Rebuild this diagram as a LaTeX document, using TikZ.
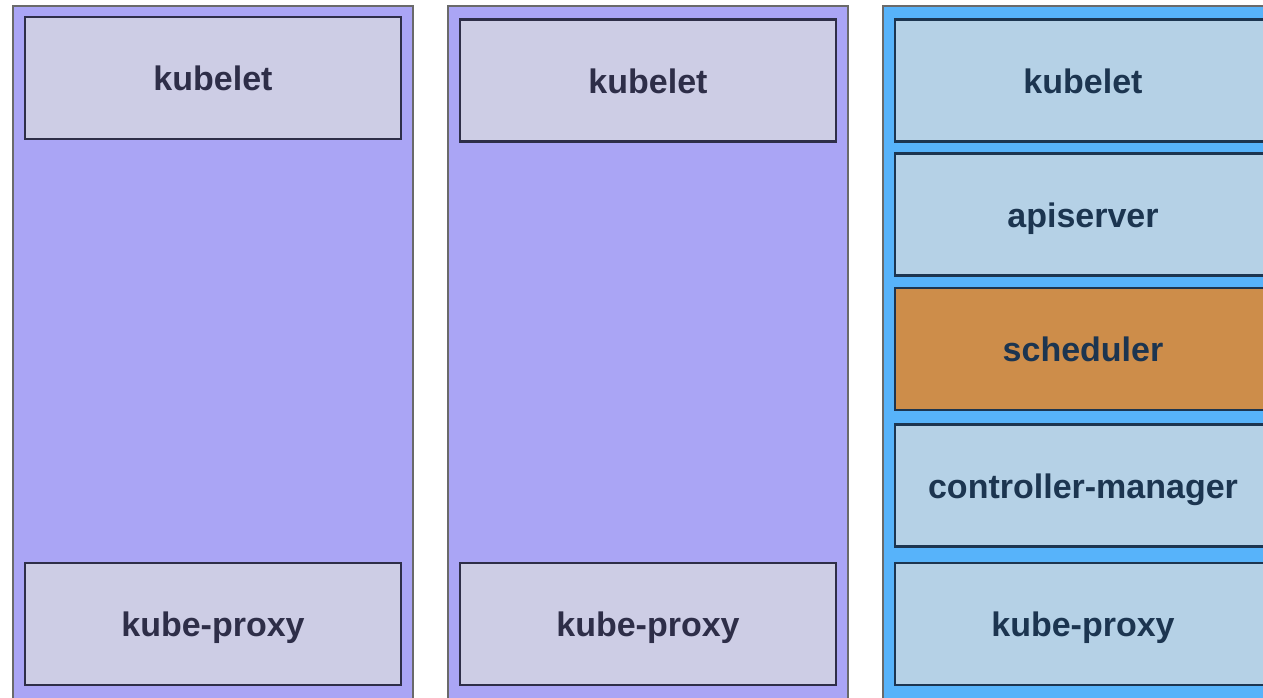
\documentclass[tikz,border=0pt]{standalone}
\usepackage{fontspec}
\setmainfont{Liberation Sans}
\definecolor{purp}{HTML}{AAA5F5}
\definecolor{lav}{HTML}{CDCDE5}
\definecolor{lavtxt}{HTML}{2E2E48}
\definecolor{sky}{HTML}{57B3FA}
\definecolor{pale}{HTML}{B5D1E6}
\definecolor{navy}{HTML}{1C3550}
\definecolor{orng}{HTML}{CD8D4A}
\definecolor{outline}{HTML}{6A6A6A}
\tikzset{
  nodebox/.style={draw=outline, line width=2pt},
  comp/.style={draw, line width=2.5pt, minimum width=376pt, minimum height=122pt,
    inner sep=0pt, text height=25pt, text depth=0pt,
    font=\fontsize{34}{40}\selectfont\bfseries},
  workercomp/.style={comp, fill=lav, draw=lavtxt, text=lavtxt},
  mastercomp/.style={comp, fill=pale, draw=navy, text=navy},
  schedcomp/.style={comp, fill=orng, draw=navy, text=navy},
}
\begin{document}
\begin{tikzpicture}[x=1pt, y=-1pt]
\useasboundingbox (0,0) rectangle (1263,697);
\clip (0,0) rectangle (1263,697);
\fill[white] (0,0) rectangle (1263,697);
% outer node boxes
\draw[nodebox, fill=purp] (13,6) rectangle (413,720);
\draw[nodebox, fill=purp] (448,6) rectangle (848,720);
\draw[nodebox, fill=sky] (883,6) rectangle (1290,720);
% worker 1
\node[workercomp] (k1) at (213,78) {kubelet};
\node[workercomp] (p1) at (213,624) {kube-proxy};
% worker 2
\node[workercomp] (k2) at (648,80.5) {kubelet};
\node[workercomp] (p2) at (648,624) {kube-proxy};
% master
\node[mastercomp] (k3) at (1083,80.5) {kubelet};
\node[mastercomp] (a3) at (1083,214.5) {apiserver};
\node[schedcomp] (s3) at (1083,349) {scheduler};
\node[mastercomp] (c3) at (1083,485.5) {controller-manager};
\node[mastercomp] (p3) at (1083,624) {kube-proxy};
\end{tikzpicture}
\end{document}
